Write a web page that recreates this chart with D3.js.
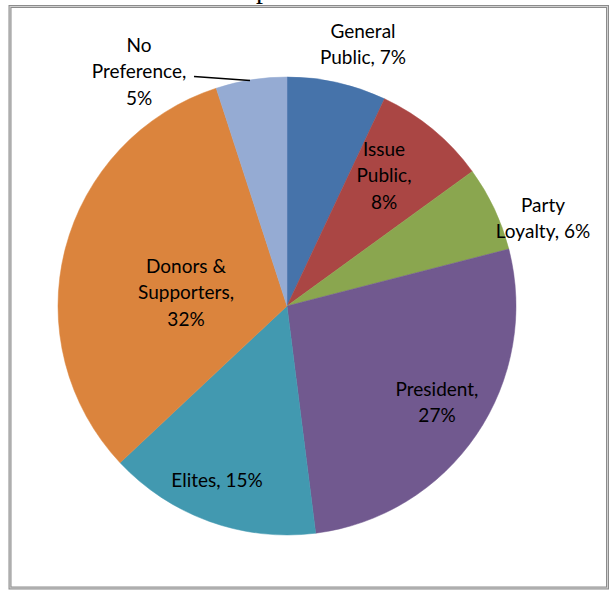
<!DOCTYPE html>
<html><head><meta charset="utf-8">
<script src="https://cdn.jsdelivr.net/npm/d3@7"></script>
<style>body{margin:0;background:#fff}svg{display:block}</style>
</head><body>
<svg id="c" width="610" height="590"></svg>
<script>
const categories = ["General Public","Issue Public","Party Loyalty","President","Elites","Donors & Supporters","No Preference"];
const values = [7, 8, 6, 27, 15, 32, 5];
const colors = ["#4673AA","#AA4644","#8AA64F","#71598F","#4299B0","#DB843D","#95ABD3"];
const labelLines = [["General","Public, 7%"],["Issue","Public,","8%"],["Party","Loyalty, 6%"],["President,","27%"],["Elites, 15%"],["Donors &","Supporters,","32%"],["No","Preference,","5%"]];
const labelPos = [[363,31],[384,149],[543,205],[437,389],[217,480],[186,266],[139,45]];

const svg = d3.select("#c");
// cropped title
svg.append("text").attr("x",263).attr("y",-2).attr("text-anchor","middle")
  .attr("font-family","Liberation Serif, serif").attr("font-size",28).text("p");
// frame
svg.append("rect").attr("x",10).attr("y",6.5).attr("width",597.5).attr("height",581.5)
  .attr("fill","none").attr("stroke","#8c8c8c").attr("stroke-width",3);
svg.append("rect").attr("x",10).attr("y",6.5).attr("width",597.5).attr("height",581.5)
  .attr("fill","none").attr("stroke","#d0d0d0").attr("stroke-width",1);

const cx = 287, cy = 306, r = 229;
const pie = d3.pie().sort(null).value(d=>d);
const arcs = pie(values);
const arc = d3.arc().innerRadius(0).outerRadius(r);
const g = svg.append("g").attr("transform",`translate(${cx},${cy})`);
g.selectAll("path").data(arcs).join("path")
  .attr("d",arc).attr("fill",(d,i)=>colors[i]).attr("stroke",(d,i)=>colors[i]).attr("stroke-width",0.5);

// leader line for No Preference
svg.append("line").attr("x1",194).attr("y1",76.5).attr("x2",250).attr("y2",80.5)
  .attr("stroke","#000").attr("stroke-width",1.5);

const lh = 26.5;
labelLines.forEach((lines,i)=>{
  const t = svg.append("text").attr("text-anchor","middle")
    .attr("font-family","Lato, 'Open Sans', sans-serif").attr("font-size",19).attr("fill","#000");
  lines.forEach((s,j)=>{
    t.append("tspan").attr("x",labelPos[i][0]).attr("y",labelPos[i][1]+j*lh).attr("dy","0.35em").text(s);
  });
});
</script>
</body></html>
